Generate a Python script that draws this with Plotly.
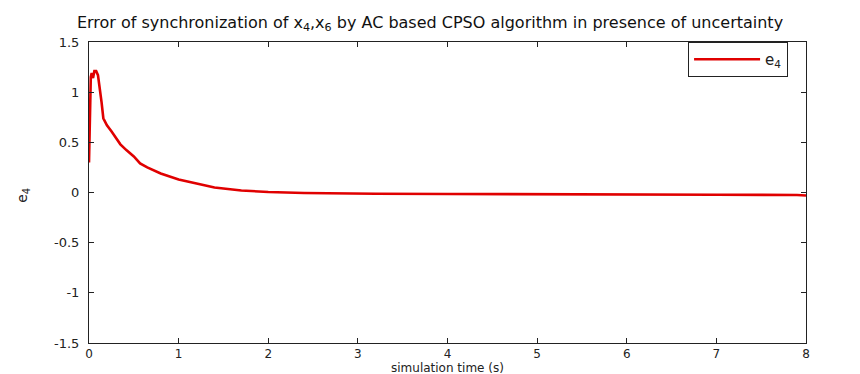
import plotly.graph_objects as go

# Data
time_s = [0, 0.01, 0.02, 0.03, 0.045, 0.06, 0.08, 0.1, 0.12, 0.14, 0.16, 0.2, 0.25,
          0.3, 0.35, 0.42, 0.5, 0.57, 0.65, 0.8, 1.0, 1.2, 1.4, 1.7, 2.0, 2.4, 2.8,
          3.2, 4.0, 5.0, 6.0, 7.0, 7.9, 8.0]
e4 = [0.30, 0.85, 1.15, 1.19, 1.14, 1.21, 1.21, 1.17, 1.05, 0.90, 0.74, 0.67, 0.61,
      0.55, 0.48, 0.42, 0.36, 0.29, 0.25, 0.19, 0.13, 0.09, 0.05, 0.02, 0.005, -0.005,
      -0.01, -0.012, -0.015, -0.015, -0.02, -0.022, -0.025, -0.03]

x_ticks = [0, 1, 2, 3, 4, 5, 6, 7, 8]
y_ticks = [-1.5, -1, -0.5, 0, 0.5, 1, 1.5]
y_tick_labels = ["-1.5", "-1", "-0.5", "0", "0.5", "1", "1.5"]

title_text = ("Error of synchronization of x<sub>4</sub>,x<sub>6</sub> by AC based CPSO "
              "algorithm in presence of uncertainty")
x_title = "simulation time (s)"
y_title = "e<sub>4</sub>"

font_family = "DejaVu Sans, Liberation Sans, Arial, sans-serif"
ink = "#222222"

fig = go.Figure()
fig.add_trace(go.Scatter(
    x=time_s, y=e4, mode="lines", name="e<sub>4</sub>",
    line=dict(color="#e00000", width=2.6),
))

axis_common = dict(
    showgrid=False, zeroline=False, showline=True, linecolor=ink, linewidth=1,
    mirror="allticks", ticks="inside", ticklen=5, tickcolor=ink, automargin=False,
)

fig.update_layout(
    width=860, height=374,
    margin=dict(l=89, r=54, t=42, b=31),
    paper_bgcolor="white", plot_bgcolor="white",
    title=dict(
        text=title_text, x=0.5, xanchor="center", y=0.94, yanchor="middle",
        font=dict(family=font_family, size=16, color="#111111"),
    ),
    xaxis=dict(range=[0, 8], tickvals=x_ticks, ticklabelstandoff=0,
               tickfont=dict(family=font_family, size=12, color=ink), **axis_common),
    yaxis=dict(range=[-1.5, 1.5], tickvals=y_ticks, ticktext=y_tick_labels,
               ticklabelstandoff=6,
               tickfont=dict(family=font_family, size=13, color=ink), **axis_common),
    showlegend=True,
    legend=dict(
        x=0.975, y=1.0, xanchor="right", yanchor="top",
        bordercolor=ink, borderwidth=1, bgcolor="white",
        itemwidth=66,
        font=dict(family=font_family, size=15, color=ink),
    ),
    annotations=[
        dict(text=x_title, xref="paper", yref="paper", x=0.5, y=-0.082,
             xanchor="center", yanchor="middle", showarrow=False,
             font=dict(family=font_family, size=12, color=ink)),
        dict(text=y_title, xref="paper", yref="paper", x=-0.093, y=0.49,
             xanchor="center", yanchor="middle", showarrow=False, textangle=-90,
             font=dict(family=font_family, size=14, color=ink)),
    ],
)

fig.write_html("out.html")
